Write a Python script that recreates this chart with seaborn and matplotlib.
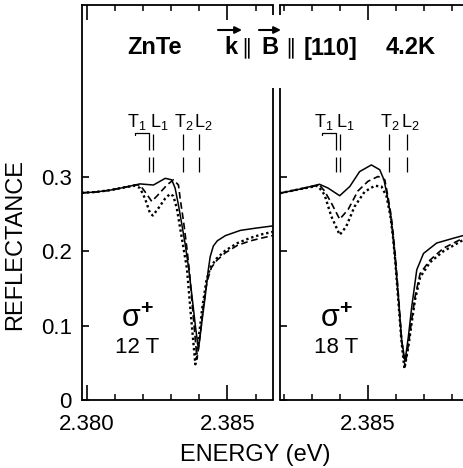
import matplotlib
matplotlib.use("Agg")
import matplotlib.pyplot as plt
import pandas as pd
import seaborn as sns

# ---------------- data ----------------
# 12 T panel
e12_solid = [2.37982, 2.38029, 2.38082, 2.38136, 2.38171, 2.38189, 2.38237, 2.38279,
             2.38302, 2.38314, 2.38326, 2.38338, 2.38350, 2.38362, 2.38374, 2.38386,
             2.38397, 2.38411, 2.38421, 2.38432, 2.38439, 2.38450, 2.38464, 2.38493,
             2.38546, 2.38600, 2.38661]
r12_solid = [0.2785, 0.2795, 0.282, 0.286, 0.289, 0.2905, 0.289, 0.298,
             0.296, 0.285, 0.262, 0.236, 0.209, 0.178, 0.140, 0.100,
             0.068, 0.110, 0.139, 0.175, 0.193, 0.207, 0.214, 0.221,
             0.228, 0.231, 0.234]

e12_dash = [2.37982, 2.38029, 2.38082, 2.38136, 2.38171, 2.38189, 2.38207, 2.38231,
            2.38249, 2.38285, 2.38308, 2.38326, 2.38332, 2.38344, 2.38356, 2.38365,
            2.38378, 2.38392, 2.38404, 2.38414, 2.38428, 2.38443, 2.38463, 2.38493,
            2.38536, 2.38582, 2.38625, 2.38661]
r12_dash = [0.2785, 0.2795, 0.282, 0.286, 0.289, 0.289, 0.280, 0.267,
            0.274, 0.289, 0.296, 0.289, 0.271, 0.240, 0.204, 0.173,
            0.115, 0.055, 0.090, 0.125, 0.160, 0.178, 0.188, 0.198,
            0.208, 0.214, 0.218, 0.221]

e12_dot = [2.37982, 2.38029, 2.38082, 2.38136, 2.38171, 2.38189, 2.38207, 2.38225,
           2.38235, 2.38255, 2.38279, 2.38296, 2.38308, 2.38320, 2.38332, 2.38344,
           2.38356, 2.38370, 2.38386, 2.38400, 2.38411, 2.38425, 2.38439, 2.38461,
           2.38493, 2.38536, 2.38582, 2.38625, 2.38661]
r12_dot = [0.2785, 0.2795, 0.282, 0.286, 0.288, 0.285, 0.271, 0.251,
           0.248, 0.258, 0.271, 0.277, 0.274, 0.258, 0.231, 0.204,
           0.177, 0.115, 0.048, 0.090, 0.125, 0.160, 0.178, 0.190,
           0.201, 0.211, 0.218, 0.223, 0.226]

# 18 T panel
e18_solid = [2.38186, 2.38257, 2.38327, 2.38357, 2.38399, 2.38435, 2.38470, 2.38512,
             2.38542, 2.38557, 2.38569, 2.38581, 2.38589, 2.38597, 2.38608, 2.38620,
             2.38632, 2.38644, 2.38656, 2.38674, 2.38698, 2.38745, 2.38805, 2.38839]
r18_solid = [0.278, 0.2835, 0.290, 0.285, 0.2746, 0.287, 0.307, 0.316,
             0.3095, 0.296, 0.274, 0.247, 0.220, 0.188, 0.139, 0.081,
             0.052, 0.085, 0.125, 0.175, 0.197, 0.211, 0.2175, 0.221]

e18_dash = [2.38186, 2.38257, 2.38327, 2.38345, 2.38369, 2.38399, 2.38429, 2.38464,
            2.38500, 2.38536, 2.38560, 2.38571, 2.38583, 2.38591, 2.38599, 2.38609,
            2.38620, 2.38632, 2.38644, 2.38656, 2.38668, 2.38686, 2.38721, 2.38769,
            2.38839]
r18_dash = [0.278, 0.2835, 0.289, 0.281, 0.265, 0.243, 0.256, 0.281,
            0.294, 0.3005, 0.296, 0.274, 0.247, 0.220, 0.188, 0.139,
            0.081, 0.045, 0.074, 0.108, 0.139, 0.170, 0.188, 0.204,
            0.2175]

e18_dot = [2.38186, 2.38257, 2.38321, 2.38345, 2.38369, 2.38399, 2.38422, 2.38452,
           2.38488, 2.38524, 2.38548, 2.38566, 2.38580, 2.38589, 2.38597, 2.38607,
           2.38619, 2.38630, 2.38644, 2.38656, 2.38668, 2.38686, 2.38721, 2.38769,
           2.38839]
r18_dot = [0.278, 0.2835, 0.288, 0.276, 0.247, 0.222, 0.233, 0.260,
           0.280, 0.288, 0.287, 0.274, 0.247, 0.220, 0.188, 0.139,
           0.081, 0.042, 0.072, 0.104, 0.135, 0.165, 0.185, 0.200,
           0.215]

# exciton mode energies marked above the spectra
mode_names = ["T$_1$", "L$_1$", "T$_2$", "L$_2$"]
modes12 = [2.38222, 2.38235, 2.38342, 2.38398]
modes18 = [2.38386, 2.38400, 2.38575, 2.38638]
label_x12 = [2.38178, 2.38257, 2.38344, 2.38414]
label_x18 = [2.38343, 2.38418, 2.38579, 2.38650]

fields = ["12 T", "18 T"]
yticks = [0, 0.1, 0.2, 0.3]
ytick_labels = ["0", "0.1", "0.2", "0.3"]

# ---------------- style ----------------
sns.set_theme(style="ticks")
plt.rcParams.update({
    "font.family": ["Liberation Sans", "DejaVu Sans"],
    "mathtext.fontset": "custom",
    "mathtext.rm": "Liberation Sans",
    "mathtext.it": "Liberation Sans:italic",
    "mathtext.bf": "Liberation Sans:bold",
    "mathtext.default": "regular",
    "axes.linewidth": 1.3,
    "axes.edgecolor": "black",
    "xtick.color": "black",
    "ytick.color": "black",
    "text.color": "black",
    "axes.facecolor": "white",
    "figure.facecolor": "white",
})

W, H = 463, 468
fig = plt.figure(figsize=(W / 100, H / 100), dpi=100)
axL = fig.add_axes([81.7 / W, 1 - 400 / H, 191 / W, 395 / H])
axR = fig.add_axes([280 / W, 1 - 400 / H, 183 / W, 395 / H])

styles = {
    "solid": dict(linestyle="-", lw=1.1),
    "dash": dict(linestyle=(0, (4.0, 2.2)), lw=1.2),
    "dot": dict(linestyle=(0, (1.0, 1.2)), lw=1.7),
}

panels = [
    dict(ax=axL, xlim=(2.37982, 2.38661), modes=modes12, labx=label_x12, field=fields[0],
         curves=[(e12_solid, r12_solid, "solid"), (e12_dash, r12_dash, "dash"),
                 (e12_dot, r12_dot, "dot")], fx=0.292),
    dict(ax=axR, xlim=(2.38186, 2.38839), modes=modes18, labx=label_x18, field=fields[1],
         curves=[(e18_solid, r18_solid, "solid"), (e18_dash, r18_dash, "dash"),
                 (e18_dot, r18_dot, "dot")], fx=0.306),
]

for i, p in enumerate(panels):
    ax = p["ax"]
    for e, r, st in p["curves"]:
        df = pd.DataFrame({"energy": e, "reflectance": r})
        sns.lineplot(data=df, x="energy", y="reflectance", ax=ax, color="black",
                     estimator=None, sort=False, **styles[st])
    ax.set_xlim(*p["xlim"])
    ax.set_ylim(0, 0.531)
    ax.set_xlabel("")
    ax.set_ylabel("")
    ax.xaxis.set_major_locator(matplotlib.ticker.MultipleLocator(0.005))
    ax.xaxis.set_minor_locator(matplotlib.ticker.MultipleLocator(0.001))
    ax.xaxis.set_major_formatter(matplotlib.ticker.FormatStrFormatter("%.3f"))
    ax.set_yticks(yticks)
    ax.tick_params(axis="x", which="major", direction="in", length=11, width=1.2,
                   top=True, labelsize=16, pad=10)
    ax.tick_params(axis="x", which="minor", direction="in", length=4, width=1.1, top=True)
    ax.tick_params(axis="y", which="major", direction="in", length=5, width=1.2,
                   labelsize=16, pad=7, right=False)
    if i == 0:
        ax.set_yticklabels(ytick_labels)
    else:
        ax.set_yticklabels([])

    # mode markers
    m = p["modes"]
    ax.vlines(m, 0.336, 0.357, color="black", lw=0.9)
    ax.vlines(m, 0.307, 0.327, color="black", lw=0.9)
    ax.plot([p["labx"][0] - 0.00006, p["labx"][0] - 0.00006, m[0], m[0]],
            [0.356, 0.3595, 0.3595, 0.357], color="black", lw=0.9)
    for name, lx in zip(mode_names, p["labx"]):
        ax.text(lx, 0.367, name, ha="center", va="baseline", fontsize=13)

    # polarisation and field labels
    ax.text(p["fx"], 0.205, r"$\sigma^{\mathbf{+}}$", transform=ax.transAxes,
            ha="center", va="center", fontsize=22)
    ax.text(p["fx"], 0.132, p["field"], transform=ax.transAxes,
            ha="center", va="center", fontsize=16)

# broken inner spines (gap for the title)
axL.spines["right"].set_visible(False)
axR.spines["left"].set_visible(False)
axR.spines["right"].set_visible(False)
for ax, xa in [(axL, 1.0), (axR, 0.0)]:
    ax.plot([xa, xa], [0, 0.79], transform=ax.transAxes, color="black", lw=1.3,
            clip_on=False, solid_capstyle="butt")
    ax.plot([xa, xa], [0.975, 1.0], transform=ax.transAxes, color="black", lw=1.3,
            clip_on=False, solid_capstyle="butt")

# title pieces
ty = 1 - 48 / H
bold = dict(fontsize=17, fontweight="bold", va="center", ha="center")
fig.text(155 / W, ty, "ZnTe", **bold)
fig.text(231 / W, ty, "k", **bold)
fig.text(246 / W, ty, "\u2225", family=["DejaVu Sans"], fontsize=15, va="center", ha="center")
fig.text(270 / W, ty, "B", **bold)
fig.text(291 / W, ty, "\u2225", family=["DejaVu Sans"], fontsize=15, va="center", ha="center")
fig.text(331 / W, ty, "[110]", **bold)
fig.text(411 / W, ty, "4.2K", **bold)
for x0, x1 in [(218, 242), (259, 281)]:
    axL.annotate("", xy=(x1 / W, 1 - 30 / H), xytext=(x0 / W, 1 - 30 / H),
                 xycoords="figure fraction", textcoords="figure fraction",
                 arrowprops=dict(arrowstyle="-|>", lw=1.5, color="black",
                                 mutation_scale=10, shrinkA=0, shrinkB=0))

fig.text(15 / W, 1 - 245 / H, "REFLECTANCE", rotation=90, ha="center", va="center",
         fontsize=17)
fig.text(255 / W, 1 - 455 / H, "ENERGY (eV)", ha="center", va="center", fontsize=17)

fig.savefig("out.png", dpi=100)
